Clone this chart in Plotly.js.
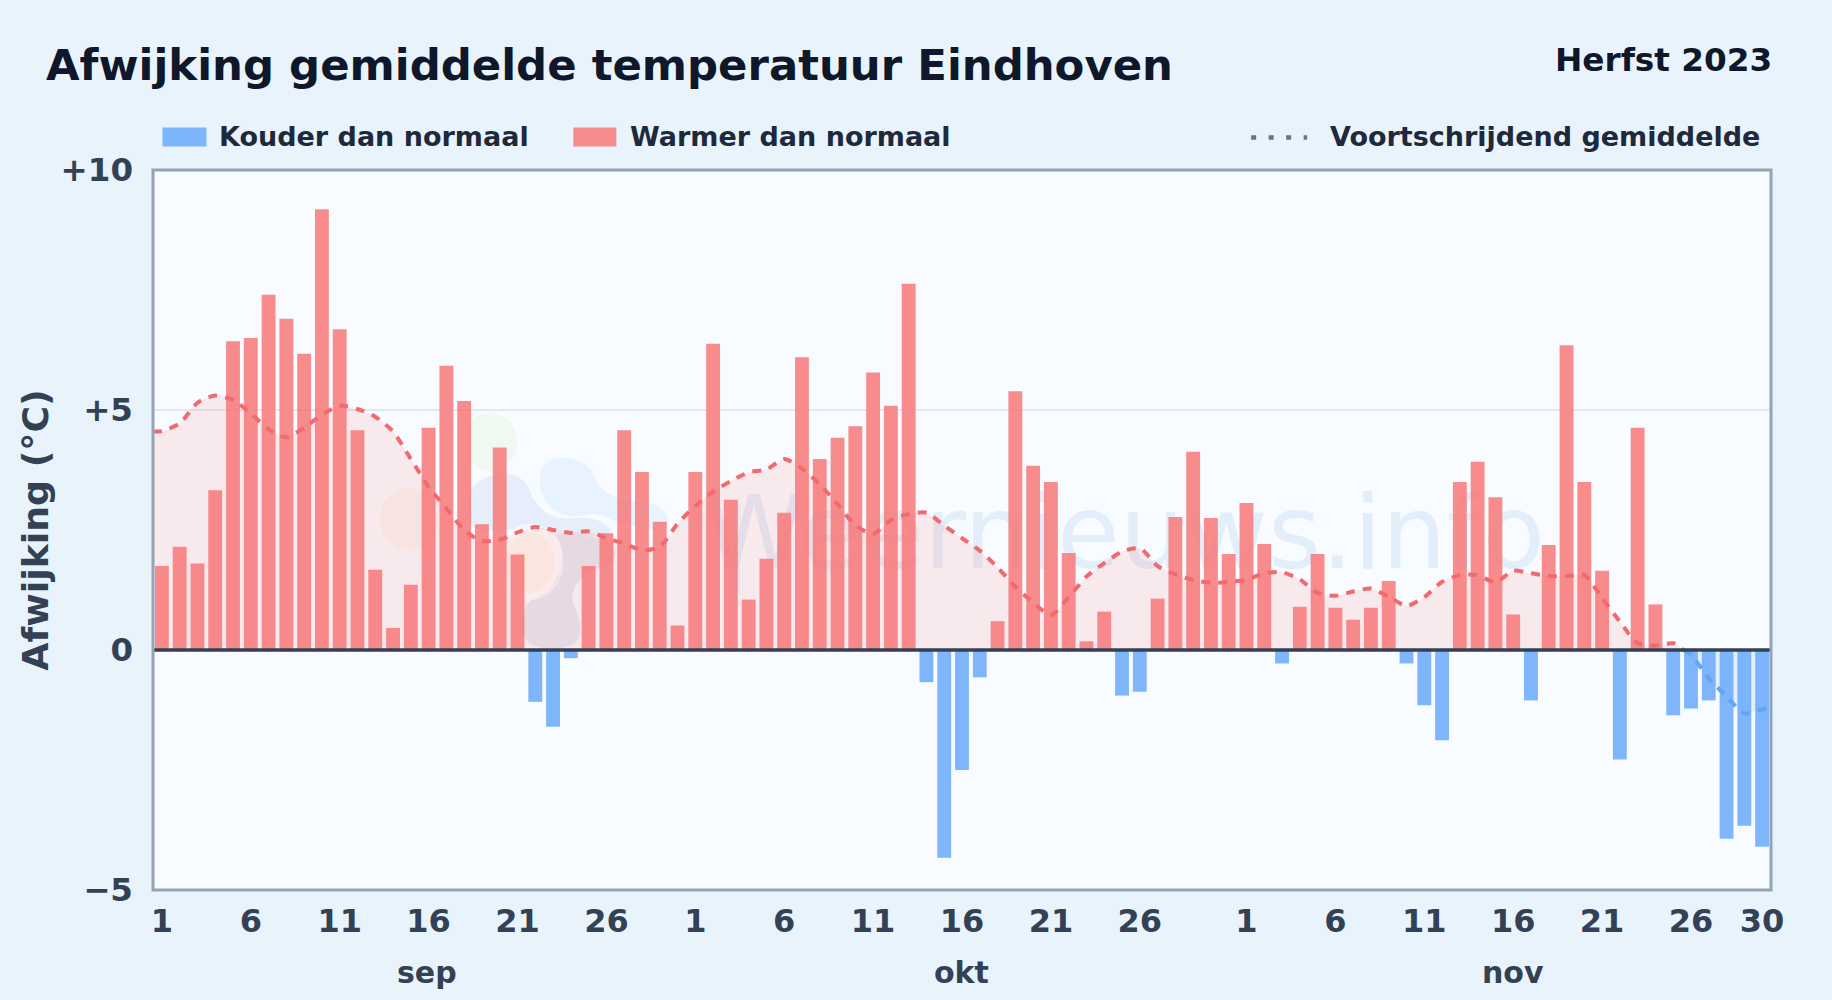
<!DOCTYPE html>
<html><head><meta charset="utf-8">
<script src="https://cdn.plot.ly/plotly-3.0.1.min.js"></script>
<style>html,body{margin:0;padding:0;background:#e9f3fc;width:1832px;height:1000px;overflow:hidden}#chart{width:1832px;height:1000px}</style>
</head><body><div id="chart"></div>
<script>
// Daily deviation from normal (°C), 1 Sep - 30 Nov 2023
const sepValues = [1.75,2.15,1.8,3.33,6.43,6.5,7.4,6.9,6.17,9.18,6.68,4.58,1.67,0.46,1.36,4.63,5.92,5.19,2.62,4.22,1.99,-1.08,-1.6,-0.17,1.75,2.43,4.58,3.71,2.67,0.51];
const oktValues = [3.71,6.38,3.13,1.05,1.9,2.86,6.1,3.98,4.42,4.66,5.78,5.09,7.63,-0.67,-4.33,-2.5,-0.57,0.6,5.39,3.84,3.5,2.02,0.18,0.8,-0.95,-0.87,1.07,2.77,4.13,2.75,2.0];
const novValues = [3.06,2.21,-0.28,0.9,2.0,0.88,0.63,0.88,1.44,-0.28,-1.15,-1.88,3.5,3.92,3.18,0.74,-1.05,2.19,6.35,3.5,1.65,-2.28,4.63,0.95,-1.36,-1.22,-1.05,-3.93,-3.66,-4.1];
// Moving average read per day
const movingAverage = [4.56,4.72,5.15,5.30,5.21,4.93,4.60,4.43,4.63,4.90,5.09,5.02,4.86,4.55,3.98,3.40,2.95,2.50,2.27,2.30,2.45,2.56,2.50,2.44,2.47,2.33,2.22,2.08,2.15,2.63,3.00,3.30,3.52,3.70,3.76,3.98,3.78,3.45,3.04,2.60,2.42,2.71,2.83,2.86,2.59,2.33,2.07,1.72,1.32,0.99,0.73,1.10,1.53,1.81,2.05,2.12,1.75,1.58,1.46,1.40,1.42,1.46,1.60,1.62,1.47,1.19,1.13,1.22,1.28,1.11,0.92,1.10,1.42,1.56,1.56,1.41,1.65,1.60,1.54,1.54,1.56,1.08,0.59,0.14,0.09,0.14,-0.10,-0.59,-0.97,-1.32,-1.24];
const movingStart = 4.55, movingEnd = -1.2;
const months = ['sep','okt','nov'];
const dayTicks = ['1','6','11','16','21','26','1','6','11','16','21','26','1','6','11','16','21','26','30'];

const C = {warm:'rgba(248,113,113,0.8)', cold:'rgba(96,165,250,0.8)', warmLine:'#f06a6e', coldLine:'#60a5fa',
  warmFill:'rgba(248,113,113,0.13)', coldFill:'rgba(96,165,250,0.13)', ink:'#0f172a', legend:'#1e293b', tick:'#334155', border:'#94a3b8'};
const FONT = '"DejaVu Sans", sans-serif';
const W = 1832, H = 1000, L = 152.5, R = 1771, T = 169.5, B = 890;

const allValues = sepValues.concat(oktValues, novValues);
const days = allValues.map((_, i) => i);
const tickPositions = [0,5,10,15,20,25, 30,35,40,45,50,55, 61,66,71,76,81,86,90];
const monthPositions = [14.9,44.95,76.0];

// split moving average at its zero crossing
const maX = [-0.5].concat(days, [90.5]);
const maY = [movingStart].concat(movingAverage, [movingEnd]);
let cross = maY.findIndex((v,i) => i>0 && v<0);
const crossX = maX[cross-1] + (maY[cross-1]/(maY[cross-1]-maY[cross]))*(maX[cross]-maX[cross-1]);
const warmX = maX.slice(0,cross).concat([crossX]), warmY = maY.slice(0,cross).concat([0]);
const coldX = [crossX].concat(maX.slice(cross)), coldY = [0].concat(maY.slice(cross));

const line = (color) => ({color, width:4, dash:'9px,8px', shape:'spline', smoothing:0.7});
const traces = [
 {type:'scatter',mode:'lines',x:warmX,y:warmY,fill:'tozeroy',fillcolor:C.warmFill,line:{width:0,shape:'spline',smoothing:0.7},hoverinfo:'skip',showlegend:false},
 {type:'scatter',mode:'lines',x:coldX,y:coldY,fill:'tozeroy',fillcolor:C.coldFill,line:{width:0,shape:'spline',smoothing:0.7},hoverinfo:'skip',showlegend:false},
 {type:'bar',name:'Kouder dan normaal',x:days,y:allValues.map(v=>v<0?v:null),width:0.78,marker:{color:C.cold,line:{width:0}},xaxis:'x2',yaxis:'y2',showlegend:false},
 {type:'bar',name:'Warmer dan normaal',x:days,y:allValues.map(v=>v>=0?v:null),width:0.78,marker:{color:C.warm,line:{width:0}},xaxis:'x2',yaxis:'y2',showlegend:false},
 {type:'scatter',mode:'lines',name:'Voortschrijdend gemiddelde',x:warmX,y:warmY,line:line(C.warmLine),xaxis:'x2',yaxis:'y2',showlegend:false},
 {type:'scatter',mode:'lines',name:'Voortschrijdend gemiddelde',x:coldX,y:coldY,line:line(C.coldLine),xaxis:'x2',yaxis:'y2',showlegend:false}
];

// pixel helpers for page furniture (legend, watermark)
const px = x => (x-L)/(R-L);
const py = y => (B-y)/(B-T);
function blob(pts, fill){ // smooth closed path through zoom coordinates of the logo
  const P = pts.map(p=>[px(360+p[0]/3), py(390+p[1]/3)]);
  const mid=(a,b)=>[(a[0]+b[0])/2,(a[1]+b[1])/2];
  let m=mid(P[P.length-1],P[0]);
  let d='M '+m[0]+','+m[1];
  P.forEach((p,i)=>{const n=mid(p,P[(i+1)%P.length]); d+=' Q '+p[0]+','+p[1]+' '+n[0]+','+n[1];});
  return {type:'path',xref:'paper',yref:'paper',path:d+' Z',fillcolor:fill,line:{width:0},layer:'below'};
}
function oval(cx,cy,rx,ry,fill){
  return {type:'circle',xref:'paper',yref:'paper',x0:px(360+(cx-rx)/3),x1:px(360+(cx+rx)/3),y0:py(390+(cy+ry)/3),y1:py(390+(cy-ry)/3),fillcolor:fill,line:{width:0},layer:'below'};
}
const logo = [
 oval(390,155,80,88,'rgba(190,230,150,0.12)'),
 oval(145,385,88,92,'rgba(245,205,140,0.12)'),
 blob([[530,260],[560,205],[625,200],[690,225],[715,295],[790,335],[885,335],[930,385],[915,425],[770,400],[720,365],[630,385],[555,345]],'rgba(125,195,245,0.14)'),
 blob([[325,300],[365,262],[445,245],[500,275],[520,335],[580,390],[700,378],[765,425],[720,445],[480,410],[400,425],[335,420],[320,360]],'rgba(100,150,215,0.12)'),
 blob([[485,640],[560,615],[610,520],[600,450],[570,425],[720,440],[770,480],[760,520],[680,545],[625,610],[665,700],[650,775],[485,775]],'rgba(110,120,170,0.14)'),
 oval(510,515,100,115,'rgba(255,255,255,0.55)'),
 oval(510,518,72,90,'rgba(245,205,140,0.14)')
];
const watermark = {type:'rect',xref:'paper',yref:'paper',x0:px(694),x1:px(1554),y0:py(590),y1:py(460),fillcolor:'rgba(0,0,0,0)',line:{width:0},layer:'below',
  label:{text:'Weernieuws.info',font:{family:FONT,size:102,color:'rgba(100,160,230,0.14)'},textposition:'middle center'}};

const legendSwatch = (x0,x1,color)=>({type:'rect',xref:'paper',yref:'paper',x0:px(x0),x1:px(x1),y0:py(146),y1:py(127),fillcolor:color,line:{width:0}});
const shapes = logo.concat([watermark,
 legendSwatch(162,206,C.cold), legendSwatch(573,616,C.warm),
 {type:'line',xref:'paper',yref:'paper',x0:px(1251),x1:px(1307),y0:py(137),y1:py(137),line:{color:'#64748b',width:4.5,dash:'5px,12.5px'}},
 {type:'line',xref:'paper',yref:'y',x0:0,x1:1,y0:0,y1:0,line:{color:C.tick,width:3.6},layer:'above'},
 {type:'rect',xref:'paper',yref:'paper',x0:0,x1:1,y0:0,y1:1,line:{color:C.border,width:3},fillcolor:'rgba(0,0,0,0)',layer:'above'}
]);

const txt = (text,x,y,size,color,xanchor)=>({text,xref:'paper',yref:'paper',x:px(x),y:py(y),xanchor:xanchor||'left',yanchor:'middle',showarrow:false,font:{family:FONT,size,color,weight:700}});
const annotations = [
 txt('Herfst 2023',1774,59,32.7,C.ink,'right'),
 txt('Kouder dan normaal',216.5,136,27,C.legend),
 txt('Warmer dan normaal',627.5,136,27,C.legend),
 txt('Voortschrijdend gemiddelde',1327.5,136,27,C.legend)
].concat(months.map((m,i)=>({text:m,xref:'x',yref:'paper',x:monthPositions[i],y:py(973),xanchor:'center',yanchor:'middle',showarrow:false,font:{family:FONT,size:30,color:C.tick,weight:700}})));

const layout = {
 width:W,height:H,margin:{l:L,r:W-R,t:T,b:H-B,pad:0},
 paper_bgcolor:'#e9f3fc',plot_bgcolor:'#f8fbff',barmode:'overlay',showlegend:false,
 font:{family:FONT},
 title:{text:'Afwijking gemiddelde temperatuur Eindhoven',x:46/W,xanchor:'left',y:1-65/H,yanchor:'middle',font:{family:FONT,size:43.4,color:C.ink,weight:700}},
 xaxis:{range:[-0.5,90.5],tickmode:'array',tickvals:tickPositions,ticktext:dayTicks,showgrid:false,zeroline:false,showline:false,ticks:'',ticklabelstandoff:9,tickangle:0,tickfont:{family:FONT,size:32,color:C.tick,weight:700}},
 yaxis:{range:[-5,10],tickmode:'array',tickvals:[-5,0,5,10],ticktext:['−5','0','+5','+10'],gridcolor:'#e2e8f0',gridwidth:2,zeroline:false,showline:false,ticks:'',ticklabelstandoff:19,tickfont:{family:FONT,size:32.5,color:C.tick,weight:700},
  title:{text:'Afwijking (°C)',standoff:0,font:{family:FONT,size:36.3,color:C.tick,weight:700}}},
 xaxis2:{range:[-0.5,90.5],overlaying:'x',visible:false},
 yaxis2:{range:[-5,10],overlaying:'y',visible:false},
 shapes,annotations
};
Plotly.newPlot('chart',traces,layout,{displayModeBar:false,responsive:false});
</script></body></html>
